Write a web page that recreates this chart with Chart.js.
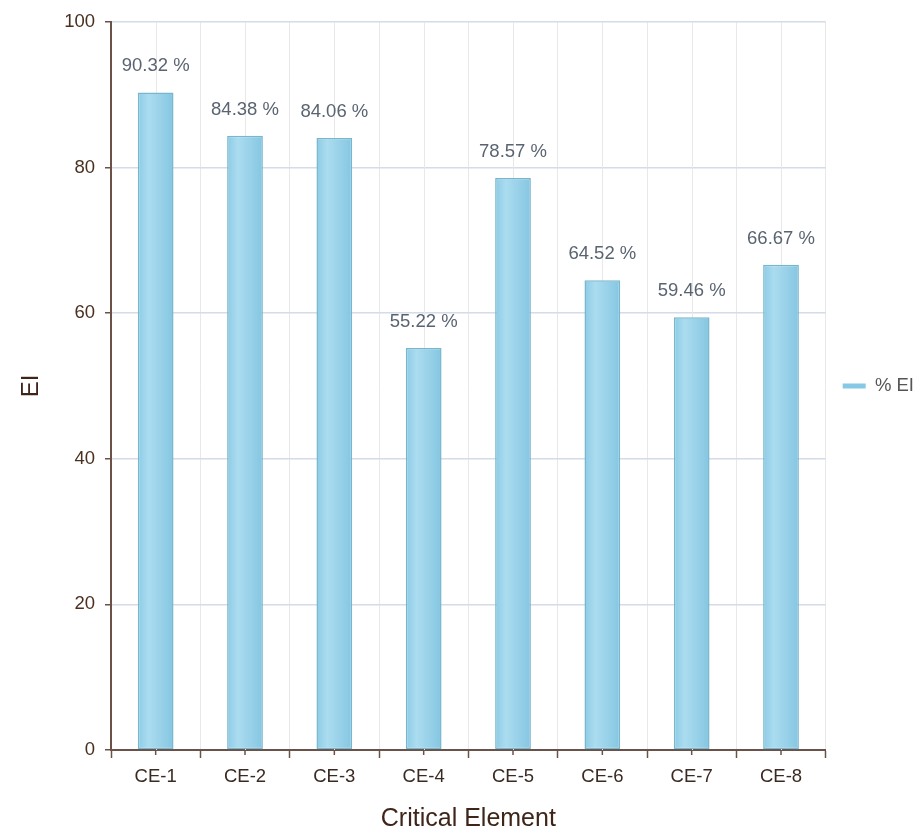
<!DOCTYPE html>
<html>
<head>
<meta charset="utf-8">
<title>EI by Critical Element</title>
<script src="https://cdn.jsdelivr.net/npm/chart.js@4"></script>
<style>
  html, body { margin: 0; padding: 0; background: #fff; }
  #wrap { width: 922px; height: 832px; }
</style>
</head>
<body>
<div id="wrap"><canvas id="myChart" width="922" height="832"></canvas></div>
<script>
/* data */
const categories = ['CE-1', 'CE-2', 'CE-3', 'CE-4', 'CE-5', 'CE-6', 'CE-7', 'CE-8'];
const eiValues = [90.32, 84.38, 84.06, 55.22, 78.57, 64.52, 59.46, 66.67];
const yTicks = [0, 20, 40, 60, 80, 100];

const FONT = "'Liberation Sans', Arial, sans-serif";
const AXIS = '#6b5148';

/* bar fill: horizontal gradient per bar, position from the x scale */
function barFill(c) {
  if (c.type !== 'data') return '#86c9e5';
  const chart = c.chart;
  const x = chart.scales.x;
  if (!x || !x.width) return '#8fd0ea';
  const cx = x.getPixelForValue(c.dataIndex);
  const w = x.width / categories.length * 0.4;
  const g = chart.ctx.createLinearGradient(cx - w / 2, 0, cx + w / 2, 0);
  g.addColorStop(0, '#8ccbe5');
  g.addColorStop(0.3, '#abdcf0');
  g.addColorStop(1, '#85c6e1');
  return g;
}

/* small ticks + light grid lines at category centres */
const centerTicks = {
  id: 'centerTicks',
  beforeDatasetsDraw(chart) {
    const ctx = chart.ctx;
    const x = chart.scales.x;
    const area = chart.chartArea;
    ctx.save();
    categories.forEach(function(c, i) {
      const px = Math.round(x.getPixelForValue(i)) + 0.5;
      ctx.strokeStyle = '#e8e8e8';
      ctx.lineWidth = 1;
      ctx.beginPath();
      ctx.moveTo(px, area.top);
      ctx.lineTo(px, area.bottom);
      ctx.stroke();
    });
    ctx.restore();
  },
  afterDraw(chart) {
    const ctx = chart.ctx;
    const x = chart.scales.x;
    const area = chart.chartArea;
    ctx.save();
    ctx.strokeStyle = AXIS;
    ctx.lineWidth = 1.5;
    categories.forEach(function(c, i) {
      const px = x.getPixelForValue(i);
      ctx.beginPath();
      ctx.moveTo(px, area.bottom);
      ctx.lineTo(px, area.bottom + 5);
      ctx.stroke();
    });
    ctx.restore();
  }
};

/* value labels above bars */
const valueLabels = {
  id: 'valueLabels',
  afterDatasetsDraw(chart) {
    const ctx = chart.ctx;
    const meta = chart.getDatasetMeta(0);
    ctx.save();
    ctx.font = '18.5px ' + FONT;
    ctx.fillStyle = '#5a6471';
    ctx.textAlign = 'center';
    ctx.textBaseline = 'alphabetic';
    meta.data.forEach(function(bar, i) {
      ctx.fillText(eiValues[i].toFixed(2) + ' %', bar.x, bar.y - 21);
    });
    ctx.restore();
  }
};

const ctx = document.getElementById('myChart').getContext('2d');
const defaultLabels = Chart.defaults.plugins.legend.labels.generateLabels;

const chart = new Chart(ctx, {
  type: 'bar',
  data: {
    labels: categories,
    datasets: [{
      label: '% EI',
      data: eiValues,
      backgroundColor: barFill,
      borderColor: '#77b6cd',
      borderWidth: 1.5,
      borderSkipped: false,
      barPercentage: 0.4,
      categoryPercentage: 1,
    }],
  },
  options: {
    responsive: false,
    animation: false,
    layout: { padding: { top: 22, right: -2, bottom: 0, left: 0 } },
    plugins: {
      tooltip: { enabled: false },
      legend: {
        position: 'right',
        fullSize: false,
        labels: {
          boxWidth: 23,
          boxHeight: 5,
          padding: 17,
          color: '#555',
          font: { family: FONT, size: 18.5 },
          generateLabels(chart) {
            return defaultLabels(chart).map(function(item) {
              item.lineWidth = 0;
              item.fillStyle = '#86c9e5';
              return item;
            });
          },
        },
      },
    },
    scales: {
      x: {
        grid: {
          offset: true,
          color: '#e8e8e8',
          tickColor: AXIS,
          tickLength: 8,
          tickWidth: 1.5,
        },
        border: { color: AXIS, width: 2 },
        ticks: {
          color: '#3a2a22',
          padding: 8,
          font: { family: FONT, size: 18.5 },
        },
        title: {
          display: true,
          text: 'Critical Element',
          color: '#3f2418',
          padding: { top: 4, bottom: 0 },
          font: { family: FONT, size: 25, lineHeight: 1 },
        },
        afterFit(scale) { scale.height = 82; },
      },
      y: {
        min: 0,
        max: 100,
        afterBuildTicks(scale) { scale.ticks = yTicks.map(function(v) { return { value: v }; }); },
        grid: {
          color: '#d3dce7',
          lineWidth: 1.5,
          tickColor: AXIS,
          tickLength: 6,
          tickWidth: 1.5,
        },
        border: { color: AXIS, width: 2 },
        ticks: {
          color: '#4a3020',
          padding: 10,
          font: { family: FONT, size: 18.5 },
        },
        title: {
          display: true,
          text: 'EI',
          color: '#3f2418',
          padding: { top: 19, bottom: 0 },
          font: { family: FONT, size: 24, lineHeight: 1 },
        },
        afterFit(scale) { scale.width = 111; },
      },
    },
  },
  plugins: [centerTicks, valueLabels],
});
</script>
</body>
</html>
